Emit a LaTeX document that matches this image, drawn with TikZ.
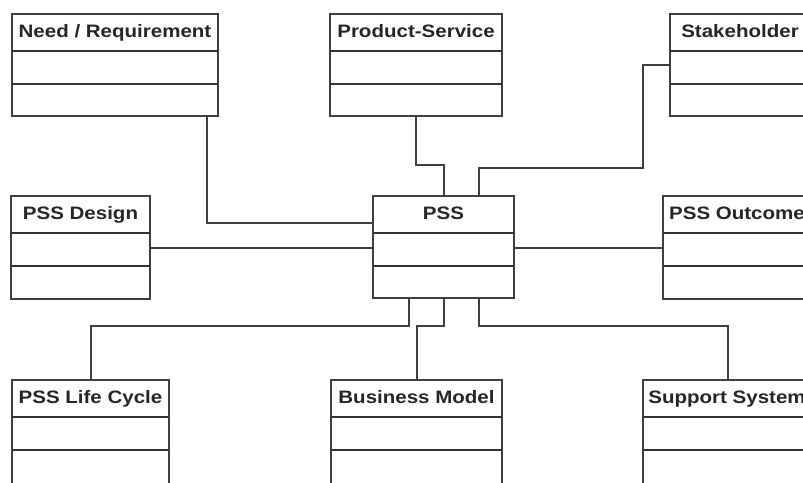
\documentclass[tikz,border=0pt]{standalone}
\usepackage{fontspec}
\setmainfont{Liberation Sans}
\newfontfamily\boxfont{Liberation Sans}[FakeStretch=1.14]
\newcommand\classbox[6]{% name, x, y, width, height, title
  \node[classframe, minimum width=#4pt, minimum height=#5pt] (#1) at (#2,#3) {};
  \node[boxtitle] (#1-t) at ([yshift=-23pt]#1.north) {#6};
  \draw[rule] ([yshift=-37pt]#1.north west) -- ([yshift=-37pt]#1.north east);
  \draw[rule] ([yshift=-70pt]#1.north west) -- ([yshift=-70pt]#1.north east);
}
\begin{document}
\begin{tikzpicture}[x=1pt,y=-1pt,
  classframe/.style={draw=black!75, line width=1.5pt, rectangle, inner sep=0pt, outer sep=0pt, anchor=north west},
  boxtitle/.style={font=\boxfont\bfseries\fontsize{18}{20}\selectfont, text=black!85, inner sep=0pt, anchor=base},
  rule/.style={draw=black!80, line width=1.5pt},
  link/.style={draw=black!75, line width=1.5pt}]
\clip (0,0) rectangle (803,482);
\fill[white] (0,0) rectangle (803,482);
\classbox{need}{12}{14}{206}{102}{Need / Requirement}
\classbox{prod}{330}{14}{172}{102}{Product-Service}
\classbox{stake}{670}{14}{140}{102}{Stakeholder}
\classbox{design}{11}{196}{139}{103}{PSS Design}
\classbox{pss}{373}{196}{141}{102}{PSS}
\classbox{outcome}{663}{196}{148}{103}{PSS Outcome}
\classbox{life}{12}{380}{157}{110}{PSS Life Cycle}
\classbox{biz}{331}{380}{171}{110}{Business Model}
\classbox{supp}{643}{380}{168}{110}{Support System}
% connectors
\draw[link] ([xshift=195pt]need.south west) |- ([yshift=-27pt]pss.north west);
\draw[link] ([xshift=86pt]prod.south west) -- ++(0,49) -| ([xshift=71pt]pss.north west);
\draw[link] ([yshift=-51pt]stake.north west) -- ++(-27,0) -- ++(0,103) -| ([xshift=106pt]pss.north west);
\draw[link] ([yshift=-52pt]design.north east) -- ([yshift=-52pt]pss.north west);
\draw[link] ([yshift=-52pt]pss.north east) -- ([yshift=-52pt]outcome.north west);
\draw[link] ([xshift=36pt]pss.south west) -- ++(0,28) -| ([xshift=79pt]life.north west);
\draw[link] ([xshift=71pt]pss.south west) -- ++(0,28) -| ([xshift=86pt]biz.north west);
\draw[link] ([xshift=106pt]pss.south west) -- ++(0,28) -| ([xshift=85pt]supp.north west);
\end{tikzpicture}
\end{document}
